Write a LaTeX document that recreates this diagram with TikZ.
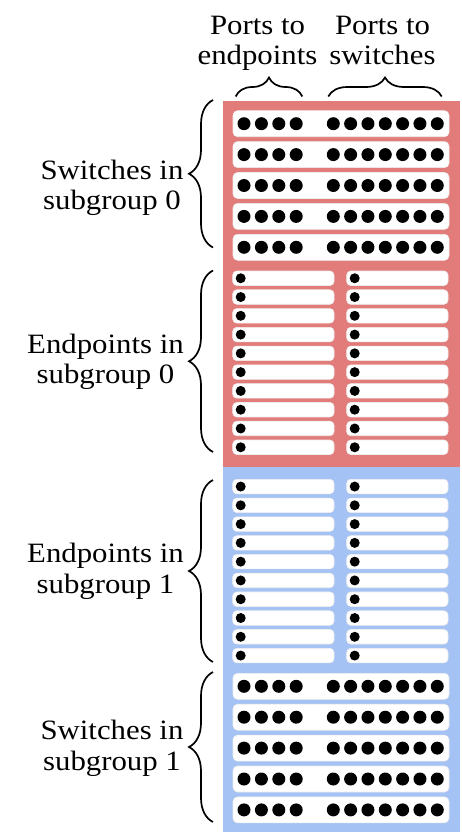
\documentclass[tikz,border=0pt]{standalone}
\usepackage{fontspec}
\setmainfont{Liberation Serif}[FakeStretch=1.1]
\usetikzlibrary{decorations.pathreplacing}
\definecolor{sgred}{RGB}{226,124,122}
\definecolor{sgblue}{RGB}{164,194,244}

% a switch row: 4 ports to endpoints, 7 ports to switches
\newcommand{\swnode}[2]{%
  \node[swrow] (#1) at (341,#2) {};
  \foreach \i in {0,...,3}
    {\node[swport] (#1e\i) at ({244+17.4*\i},#2) {};}
  \foreach \j in {0,...,6}
    {\node[swport] (#1s\j) at ({333.3+17.33*\j},#2) {};}
}
% an endpoint: one port
\newcommand{\epnode}[3]{%
  \node[eprow] (#1) at (#2,#3) {};
  \node[epport] (#1p) at ({#2-42.65},#3) {};
}

\begin{document}
\begin{tikzpicture}[x=1pt,y=-1pt,
  lbl/.style={font=\fontsize{28}{30}\selectfont, inner sep=0pt, anchor=base},
  groupbox/.style={fill=#1, draw=none, minimum width=236.5pt, inner sep=0pt},
  swrow/.style={fill=white, draw=black!7, line width=0.6pt, rounded corners=4.5pt,
    minimum width=216pt, minimum height=26pt, inner sep=0pt},
  eprow/.style={fill=white, draw=black!7, line width=0.6pt, rounded corners=4pt,
    minimum width=101.3pt, minimum height=14.5pt, inner sep=0pt},
  port/.style={circle, fill=black, inner sep=0pt},
  swport/.style={port, minimum size=13pt},
  epport/.style={port, minimum size=10pt},
  brc/.style={decorate, decoration={brace, amplitude=#1}, line width=1.7pt},
]
\useasboundingbox (0,0) rectangle (462,835);

% subgroup backgrounds
\node[groupbox=sgred,  minimum height=366pt] (g0) at (341.25,284) {};
\node[groupbox=sgblue, minimum height=365pt] (g1) at (341.25,649.5) {};

% subgroup 0
\foreach \k in {0,...,4} {
  \swnode{sw0r\k}{123.7+30.9*\k}
}
\foreach \k in {0,...,9} {
  \epnode{ep0a\k}{283.35}{278.25+18.78*\k}
  \epnode{ep0b\k}{397.35}{278.25+18.78*\k}
}

% subgroup 1
\foreach \k in {0,...,9} {
  \epnode{ep1a\k}{283.35}{486.55+18.78*\k}
  \epnode{ep1b\k}{397.35}{486.55+18.78*\k}
}
\foreach \k in {0,...,4} {
  \swnode{sw1r\k}{686.3+30.9*\k}
}

% brace ends
\coordinate (tA1) at (235.7,96.5);  \coordinate (tA2) at (302.3,96.5);
\coordinate (tB1) at (328.3,96.5);  \coordinate (tB2) at (441.7,96.5);
\coordinate (lA1) at (213,247.5);   \coordinate (lA2) at (213,100);
\coordinate (lB1) at (213,452);     \coordinate (lB2) at (213,270.5);
\coordinate (lC1) at (213,662);     \coordinate (lC2) at (213,480);
\coordinate (lD1) at (213,822);     \coordinate (lD2) at (213,672);

\draw[brc=19pt] (tA1) -- (tA2);
\draw[brc=19pt] (tB1) -- (tB2);
\draw[brc=24pt] (lA1) -- (lA2);
\draw[brc=24pt] (lB1) -- (lB2);
\draw[brc=24pt] (lC1) -- (lC2);
\draw[brc=24pt] (lD1) -- (lD2);

% column headings
\node[lbl] (hA1) at (257.5,34.3) {Ports to};
\node[lbl] (hA2) at (257.5,64)   {endpoints};
\node[lbl] (hB1) at (382.5,34.3) {Ports to};
\node[lbl] (hB2) at (382.5,64)   {switches};

% row-group labels
\node[lbl] (s0a) at (112,179.3)   {Switches in};
\node[lbl] (s0b) at (112,209.3)   {subgroup 0};
\node[lbl] (e0a) at (105.5,353.3) {Endpoints in};
\node[lbl] (e0b) at (105.5,383.3) {subgroup 0};
\node[lbl] (e1a) at (105.5,562.7) {Endpoints in};
\node[lbl] (e1b) at (105.5,593)   {subgroup 1};
\node[lbl] (s1a) at (112,739.3)   {Switches in};
\node[lbl] (s1b) at (112,770)     {subgroup 1};
\end{tikzpicture}
\end{document}
